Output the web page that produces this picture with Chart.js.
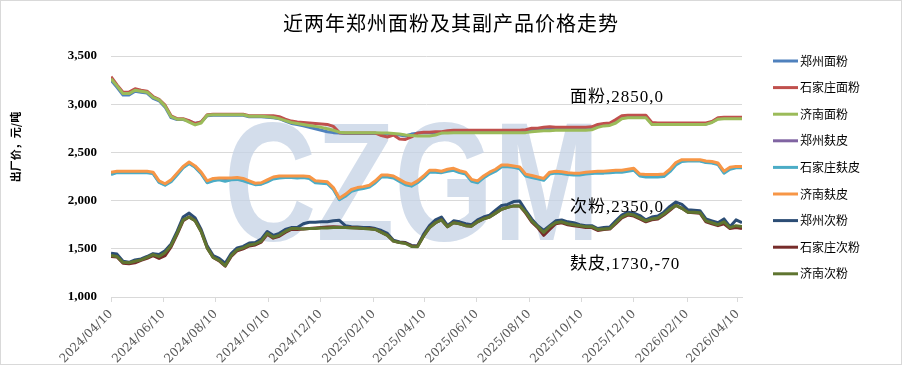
<!DOCTYPE html>
<html>
<head>
<meta charset="utf-8">
<script src="https://cdn.jsdelivr.net/npm/chart.js@4.4.1/dist/chart.umd.min.js"></script>
<style>
  html, body { margin: 0; padding: 0; background: #fff; }
  #wrap { width: 902px; height: 365px; }
</style>
</head>
<body>
<div id="wrap"><canvas id="myChart" width="902" height="365"></canvas></div>
<script>
// weekly sample dates
const dates = [
    '2024/04/10','2024/04/17','2024/04/24','2024/05/01','2024/05/08','2024/05/15','2024/05/22','2024/05/29','2024/06/05','2024/06/12',
    '2024/06/19','2024/06/26','2024/07/03','2024/07/10','2024/07/17','2024/07/24','2024/07/31','2024/08/07','2024/08/14','2024/08/21',
    '2024/08/28','2024/09/04','2024/09/11','2024/09/18','2024/09/25','2024/10/02','2024/10/09','2024/10/16','2024/10/23','2024/10/30',
    '2024/11/06','2024/11/13','2024/11/20','2024/11/27','2024/12/04','2024/12/11','2024/12/18','2024/12/25','2025/01/01','2025/01/08',
    '2025/01/15','2025/01/22','2025/01/29','2025/02/05','2025/02/12','2025/02/19','2025/02/26','2025/03/05','2025/03/12','2025/03/19',
    '2025/03/26','2025/04/02','2025/04/09','2025/04/16','2025/04/23','2025/04/30','2025/05/07','2025/05/14','2025/05/21','2025/05/28',
    '2025/06/04','2025/06/11','2025/06/18','2025/06/25','2025/07/02','2025/07/09','2025/07/16','2025/07/23','2025/07/30','2025/08/06',
    '2025/08/13','2025/08/20','2025/08/27','2025/09/03','2025/09/10','2025/09/17','2025/09/24','2025/10/01','2025/10/08','2025/10/15',
    '2025/10/22','2025/10/29','2025/11/05','2025/11/12','2025/11/19','2025/11/26','2025/12/03','2025/12/10','2025/12/17','2025/12/24',
    '2025/12/31','2026/01/07','2026/01/14','2026/01/21','2026/01/28','2026/02/04','2026/02/11','2026/02/18','2026/02/25','2026/03/04',
    '2026/03/11','2026/03/18','2026/03/25','2026/04/01','2026/04/08','2026/04/15'
];

const tickLabels = ['2024/04/10','2024/06/10','2024/08/10','2024/10/10','2024/12/10','2025/02/10','2025/04/10',
    '2025/06/10','2025/08/10','2025/10/10','2025/12/10','2026/02/10','2026/04/10'];

// 面粉
const zzFlour = [
    3250,3175,3095,3095,3135,3125,3115,3060,3035,2970,
    2860,2840,2840,2825,2800,2815,2880,2885,2885,2885,
    2885,2885,2885,2870,2870,2870,2865,2860,2850,2825,
    2800,2790,2775,2760,2745,2730,2715,2705,2700,2695,
    2695,2695,2695,2695,2695,2695,2690,2685,2680,2670,
    2690,2700,2705,2705,2705,2705,2710,2715,2715,2715,
    2715,2715,2715,2715,2715,2715,2715,2715,2715,2720,
    2730,2735,2740,2745,2745,2745,2745,2745,2745,2745,
    2750,2775,2790,2795,2820,2865,2870,2870,2870,2870,
    2800,2795,2795,2795,2795,2795,2795,2795,2795,2795,
    2815,2850,2855,2855,2855,2855
];
const sjzFlour = [
    3285,3200,3125,3125,3160,3145,3135,3080,3050,2990,
    2880,2850,2850,2830,2800,2815,2890,2895,2895,2895,
    2895,2895,2895,2880,2880,2880,2880,2880,2870,2845,
    2825,2815,2810,2805,2800,2795,2790,2770,2705,2700,
    2700,2700,2700,2700,2700,2675,2660,2680,2640,2635,
    2660,2700,2710,2710,2715,2715,2725,2730,2730,2730,
    2730,2730,2730,2730,2730,2730,2730,2730,2730,2735,
    2750,2750,2760,2765,2760,2760,2760,2760,2760,2760,
    2765,2790,2800,2805,2840,2880,2885,2885,2885,2885,
    2810,2805,2805,2805,2805,2805,2805,2805,2805,2805,
    2820,2860,2865,2865,2865,2865
];
const jnFlour = [
    3265,3190,3110,3110,3145,3135,3125,3070,3045,2980,
    2870,2845,2845,2815,2785,2805,2885,2890,2890,2890,
    2890,2890,2890,2875,2875,2875,2870,2865,2850,2830,
    2810,2800,2790,2780,2770,2760,2745,2730,2710,2705,
    2705,2705,2705,2705,2705,2700,2700,2695,2690,2680,
    2675,2670,2670,2670,2680,2700,2700,2705,2705,2705,
    2705,2705,2705,2705,2705,2705,2705,2705,2705,2705,
    2715,2720,2725,2725,2730,2730,2730,2730,2730,2730,
    2735,2760,2775,2780,2805,2850,2860,2860,2860,2860,
    2790,2790,2790,2790,2790,2790,2790,2790,2790,2790,
    2810,2845,2850,2850,2850,2850
];

// 麸皮
const zzBran = [
    2285,2295,2295,2295,2295,2295,2295,2285,2195,2165,
    2205,2275,2345,2390,2350,2285,2195,2220,2225,2225,
    2225,2230,2220,2195,2170,2175,2205,2235,2245,2245,
    2245,2245,2245,2240,2195,2190,2185,2125,2015,2055,
    2105,2125,2135,2150,2195,2255,2255,2245,2210,2175,
    2160,2195,2245,2305,2305,2295,2315,2325,2300,2285,
    2210,2195,2245,2285,2315,2360,2360,2350,2340,2265,
    2250,2235,2220,2285,2295,2290,2280,2275,2275,2285,
    2290,2295,2295,2300,2305,2305,2315,2325,2265,2260,
    2260,2260,2265,2315,2385,2415,2415,2415,2415,2400,
    2395,2380,2295,2335,2345,2345
];
const sjzBran = [
    2270,2290,2290,2290,2290,2290,2290,2280,2190,2160,
    2195,2265,2340,2385,2345,2280,2185,2205,2215,2200,
    2215,2220,2205,2185,2165,2170,2195,2225,2235,2240,
    2240,2235,2240,2230,2185,2180,2175,2115,2010,2045,
    2095,2115,2125,2140,2185,2245,2245,2235,2200,2165,
    2150,2185,2235,2295,2295,2290,2305,2315,2290,2275,
    2200,2185,2235,2275,2305,2350,2350,2345,2330,2255,
    2240,2225,2210,2275,2285,2280,2270,2265,2265,2275,
    2280,2285,2285,2290,2295,2295,2305,2315,2255,2245,
    2245,2245,2250,2300,2370,2405,2410,2410,2410,2395,
    2390,2375,2285,2325,2340,2340
];
const jnBran = [
    2295,2305,2305,2305,2305,2305,2305,2295,2205,2175,
    2215,2285,2355,2400,2360,2295,2205,2230,2235,2235,
    2235,2240,2230,2205,2180,2185,2215,2245,2255,2255,
    2255,2255,2255,2250,2205,2200,2195,2135,2025,2065,
    2115,2135,2145,2160,2205,2265,2265,2255,2220,2185,
    2170,2205,2255,2315,2315,2305,2325,2335,2310,2295,
    2220,2205,2255,2295,2325,2370,2370,2360,2350,2275,
    2260,2245,2230,2295,2305,2300,2290,2285,2285,2295,
    2300,2305,2305,2310,2315,2315,2325,2335,2275,2270,
    2270,2270,2275,2325,2395,2425,2425,2425,2425,2410,
    2405,2390,2305,2345,2355,2355
];

// 次粉
const zzSecond = [
    1455,1445,1370,1360,1385,1395,1420,1450,1440,1480,
    1550,1680,1830,1870,1820,1700,1530,1430,1400,1350,
    1450,1510,1525,1560,1565,1600,1680,1640,1660,1700,
    1720,1720,1760,1775,1775,1780,1780,1790,1795,1740,
    1730,1725,1720,1720,1710,1690,1660,1590,1570,1565,
    1535,1530,1650,1740,1800,1830,1740,1790,1780,1760,
    1750,1800,1830,1850,1900,1950,1960,1990,1995,1900,
    1810,1740,1690,1740,1790,1800,1780,1770,1750,1740,
    1740,1710,1720,1725,1790,1850,1880,1870,1845,1800,
    1830,1840,1880,1940,1985,1960,1905,1900,1895,1810,
    1790,1770,1810,1730,1800,1770
];
const sjzSecond = [
    1420,1415,1350,1345,1355,1380,1400,1430,1400,1430,
    1520,1650,1790,1830,1790,1680,1510,1410,1375,1320,
    1420,1480,1500,1530,1540,1570,1650,1610,1630,1670,
    1700,1700,1705,1710,1715,1720,1725,1730,1725,1720,
    1720,1715,1710,1710,1700,1670,1640,1580,1565,1560,
    1530,1525,1630,1720,1770,1800,1730,1770,1760,1740,
    1735,1780,1810,1830,1870,1910,1930,1945,1945,1870,
    1780,1720,1640,1700,1760,1770,1750,1740,1730,1720,
    1720,1690,1700,1705,1760,1820,1850,1840,1810,1780,
    1800,1810,1850,1900,1950,1920,1880,1875,1870,1780,
    1760,1740,1760,1710,1720,1710
];
const jnSecond = [
    1430,1420,1360,1355,1370,1385,1410,1440,1420,1460,
    1535,1660,1800,1830,1790,1680,1510,1410,1380,1325,
    1430,1490,1510,1540,1550,1580,1660,1620,1640,1680,
    1710,1710,1705,1710,1710,1715,1715,1720,1720,1720,
    1715,1715,1710,1705,1700,1670,1640,1580,1565,1555,
    1525,1520,1630,1720,1770,1800,1730,1770,1760,1740,
    1735,1780,1810,1830,1870,1910,1930,1945,1945,1880,
    1790,1730,1670,1730,1770,1780,1760,1750,1740,1730,
    1730,1700,1705,1710,1770,1830,1860,1850,1820,1790,
    1810,1820,1860,1910,1950,1920,1880,1880,1875,1790,
    1770,1750,1780,1720,1740,1730
];

const seriesNames = ['郑州面粉','石家庄面粉','济南面粉','郑州麸皮','石家庄麸皮','济南麸皮','郑州次粉','石家庄次粉','济南次粉'];
const seriesValues = [zzFlour, sjzFlour, jnFlour, zzBran, sjzBran, jnBran, zzSecond, sjzSecond, jnSecond];
const seriesColors = ['#4F81BD','#C0504D','#9BBB59','#8064A2','#4BACC6','#F79646','#2C4D75','#772C2A','#5F7530'];

const noteTexts = ['面粉,2850,0', '次粉,2350,0', '麸皮,1730,-70'];

function dayNum(s) {
    const p = s.split('/').map(Number);
    return Date.UTC(p[0], p[1] - 1, p[2]) / 86400000;
}

const datasets = seriesValues.map(function (vals, i) {
    return {
        label: seriesNames[i],
        data: vals.map(function (v, j) { return { x: dayNum(dates[j]), y: v }; }),
        borderColor: seriesColors[i],
        backgroundColor: seriesColors[i],
        borderWidth: 3,
        pointRadius: 0,
        tension: 0,
        borderJoinStyle: 'round',
        order: 9 - i
    };
});

const decor = {
    id: 'decor',
    beforeDatasetsDraw(chart) {
        const ctx = chart.ctx;
        ctx.save();
        ctx.font = 'bold 168px "Liberation Sans"';
        const w = ctx.measureText('CZGM').width;
        ctx.translate(224, 240);
        ctx.scale(376 / w, 1);
        ctx.fillStyle = 'rgba(196, 210, 228, 0.75)';
        ctx.textBaseline = 'alphabetic';
        ctx.fillText('CZGM', 0, 0);
        ctx.restore();
    },
    afterDraw(chart) {
        const ctx = chart.ctx;
        ctx.save();
        // title
        ctx.fillStyle = '#000';
        ctx.font = '20px "Noto Sans CJK SC"';
        ctx.letterSpacing = '1px';
        ctx.textAlign = 'center';
        ctx.textBaseline = 'middle';
        ctx.fillText('近两年郑州面粉及其副产品价格走势', 451, 23);
        ctx.letterSpacing = '0px';

        // y title
        ctx.save();
        ctx.translate(16, 147);
        ctx.rotate(-Math.PI / 2);
        ctx.font = 'bold 11px "Noto Sans CJK SC"';
        ctx.fillText('出厂价，元/吨', 0, 0);
        ctx.restore();

        // legend
        ctx.textAlign = 'left';
        ctx.font = '12px "Noto Sans CJK SC"';
        seriesNames.forEach(function (name, i) {
            const y = 61 + i * 26.6;
            ctx.strokeStyle = seriesColors[i];
            ctx.lineWidth = 3;
            ctx.beginPath();
            ctx.moveTo(773, y);
            ctx.lineTo(798, y);
            ctx.stroke();
            ctx.fillStyle = '#000';
            ctx.fillText(name, 800, y);
        });

        // notes
        ctx.font = '17px "Liberation Serif", "Noto Sans CJK SC"';
        ctx.letterSpacing = '1px';
        ctx.fillText(noteTexts[0], 570, 98);
        ctx.fillText(noteTexts[1], 570, 208);
        ctx.fillText(noteTexts[2], 570, 265);
        ctx.letterSpacing = '0px';

        // outer border
        ctx.strokeStyle = '#D9D9D9';
        ctx.lineWidth = 1;
        ctx.strokeRect(0.5, 0.5, 901, 364);
        ctx.restore();
    }
};

const ctx = document.getElementById('myChart').getContext('2d');
const myChart = new Chart(ctx, {
    type: 'line',
    data: { datasets: datasets },
    options: {
        responsive: false,
        animation: false,
        devicePixelRatio: 1,
        layout: { padding: { top: 56, right: 160, bottom: 0, left: 0 } },
        plugins: {
            legend: { display: false },
            title: { display: false },
            tooltip: { enabled: false }
        },
        scales: {
            x: {
                type: 'linear',
                min: dayNum(dates[0]),
                max: dayNum(dates[dates.length - 1]),
                afterBuildTicks: function (s) {
                    s.ticks = tickLabels.map(function (t) { return { value: dayNum(t) }; });
                },
                afterFit: function (s) {
                    s.height = 68;
                    s.paddingLeft = 0;
                    s.paddingRight = 0;
                },
                ticks: {
                    autoSkip: false,
                    maxRotation: 45,
                    minRotation: 45,
                    padding: 5,
                    color: '#595959',
                    font: { family: 'DejaVu Serif', size: 12 },
                    callback: function (v, idx) { return tickLabels[idx]; }
                },
                grid: { drawOnChartArea: false, drawTicks: true, tickLength: 5, color: '#D9D9D9' },
                border: { display: true, color: '#D9D9D9' }
            },
            y: {
                min: 1000,
                max: 3500,
                afterFit: function (s) {
                    s.width = 111;
                    s.paddingTop = 0;
                    s.paddingBottom = 0;
                },
                ticks: {
                    stepSize: 500,
                    padding: 14,
                    color: '#000',
                    font: { family: 'Liberation Serif', size: 13, weight: 'bold' },
                    callback: function (v) { return v.toLocaleString('en-US'); }
                },
                grid: { color: '#D9D9D9', drawTicks: false },
                border: { display: false }
            }
        }
    },
    plugins: [decor]
});
</script>
</body>
</html>
